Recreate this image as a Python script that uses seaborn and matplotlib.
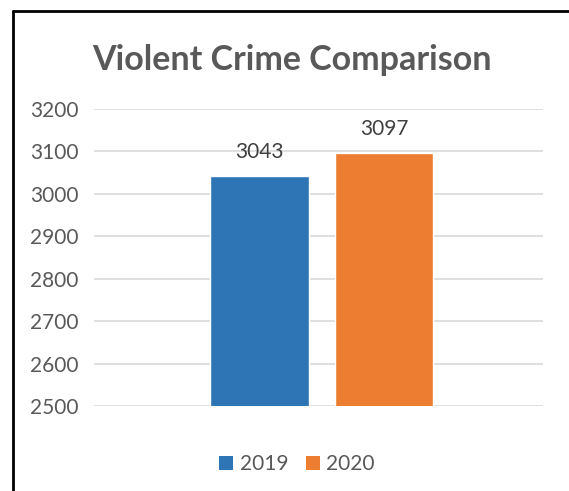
import matplotlib
matplotlib.use("Agg")
import matplotlib.pyplot as plt
import seaborn as sns
from matplotlib.patches import Patch
from matplotlib.lines import Line2D

years = ["2019", "2020"]
counts = [3043, 3097]
colors = ["#2E75B6", "#ED7D31"]
yticks = [2500, 2600, 2700, 2800, 2900, 3000, 3100, 3200]
title = "Violent Crime Comparison"

sns.set_style("white")
plt.rcParams['font.family'] = ['Lato', 'DejaVu Sans']

fig = plt.figure(figsize=(5.69, 4.91), dpi=100)
ax = fig.add_axes([94/569, 1-406/491, (543-94)/569, (406-109)/491])

sns.barplot(x=years, y=counts, hue=years, palette=colors, width=0.795,
            dodge=False, legend=False, ax=ax, saturation=1)

ax.set_ylim(2500, 3200)
ax.set_xlim(-1.329, 2.277)
ax.set_yticks(yticks)
ax.set_yticklabels([str(t) for t in yticks], fontsize=15, color="#595959")
ax.set_xticks([])
ax.tick_params(axis='y', length=0, pad=11)
ax.yaxis.grid(True, color="#D9D9D9", linewidth=1.2)
ax.set_axisbelow(True)
for s in ax.spines.values():
    s.set_visible(False)
ax.set_ylabel("")

for i, v in enumerate(counts):
    ax.annotate(str(v), (i, v), xytext=(0, 10), textcoords="offset points",
                ha="center", va="bottom", fontsize=15, color="#404040")

fig.text(292/569, 1-60/491, title, ha="center", va="center",
         fontsize=24.5, fontweight="bold", color="#595959")

handles = [Patch(facecolor=c, edgecolor="none") for c in colors]
fig.legend(handles, years, loc="center", bbox_to_anchor=(297/569, 1-464/491),
           ncol=2, frameon=False, fontsize=15, handlelength=0.67,
           handleheight=0.67, handletextpad=0.3, columnspacing=0.85,
           labelcolor="#595959", borderaxespad=0, borderpad=0)

# chart border (left and top)
fig.add_artist(Line2D([13/569, 13/569], [0, 1-11/491], color="black",
                      linewidth=2, transform=fig.transFigure))
fig.add_artist(Line2D([13/569, 1], [1-11/491, 1-11/491], color="black",
                      linewidth=2, transform=fig.transFigure))

fig.savefig("out.png", dpi=100)
